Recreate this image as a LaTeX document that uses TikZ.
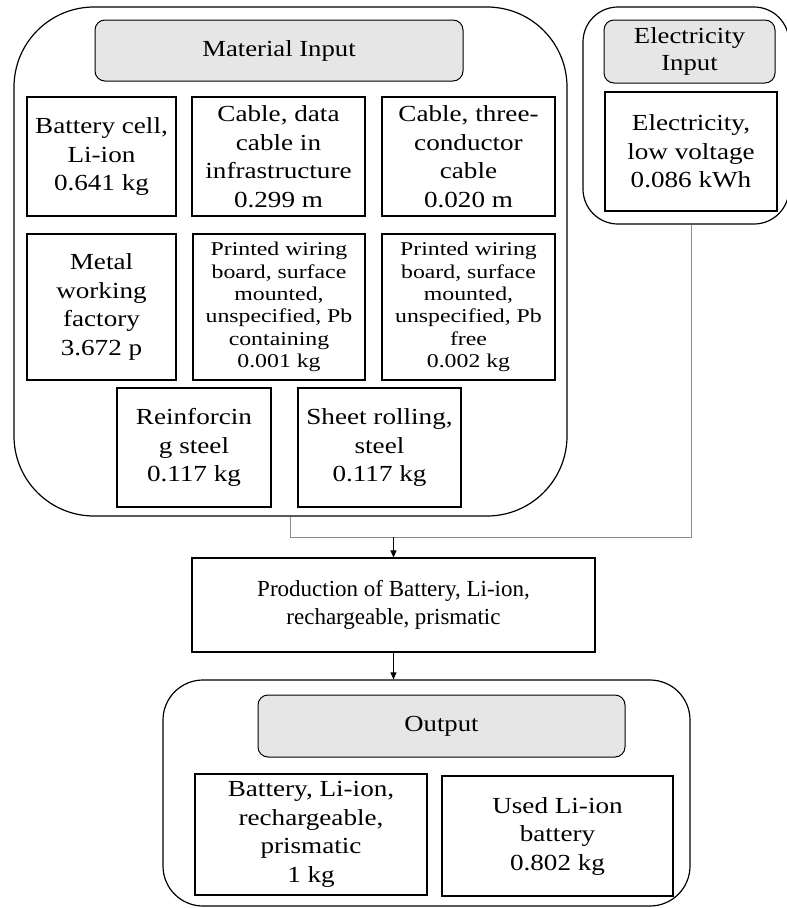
\documentclass[tikz,border=0pt]{standalone}
\usepackage{fontspec}
\setmainfont{Liberation Serif}
\newfontfamily\itemfont{Liberation Serif}[FakeStretch=1.18]
\newfontfamily\headfont{Liberation Serif}[FakeStretch=1.16]
\newfontfamily\boardfont{Liberation Serif}[FakeStretch=1.22]
\usetikzlibrary{arrows.meta}
\definecolor{headgray}{HTML}{E6E6E6}
\definecolor{linegray}{HTML}{8C8C8C}
\begin{document}
\begin{tikzpicture}[x=1pt,y=-1pt,
  group/.style={draw=black, line width=1.2pt, rounded corners=#1, inner sep=0pt},
  head/.style={draw=black, line width=1pt, fill=headgray, rounded corners=10pt,
    inner sep=0pt, align=center, font=\headfont\fontsize{23}{27.5}\selectfont},
  item/.style={draw=black, line width=1.1pt, inner sep=0pt, align=center,
    font=\itemfont\fontsize{23}{28.5}\selectfont},
  smalltext/.style={font=\boardfont\fontsize{19.5}{22.4}\selectfont},
  plaintext/.style={font=\rmfamily\fontsize{23}{28.5}\selectfont},
  feed/.style={draw=linegray, line width=0.9pt},
  flow/.style={draw=black, line width=0.9pt, -{Triangle[length=7pt,width=6pt]}}]

\useasboundingbox (0,0) rectangle (787,908);

% material inputs
\node[group=80pt, minimum width=553pt, minimum height=509pt] (matc) at (290.5,261.5) {};
\node[head, minimum width=368pt, minimum height=61pt] (mathead) at (279,50.5) {Material Input};
\node[item, minimum width=149pt, minimum height=119pt] (cell) at (101.5,156.5) {Battery cell,\\Li-ion\\0.641 kg};
\node[item, minimum width=173pt, minimum height=119pt] (datacable) at (278.5,156.5) {Cable, data\\cable in\\infrastructure\\0.299 m};
\node[item, minimum width=173pt, minimum height=119pt] (threecable) at (468.5,156.5) {Cable, three-\\conductor\\cable\\0.020 m};
\node[item, minimum width=149pt, minimum height=146pt] (metal) at (101.5,307) {Metal\\working\\factory\\3.672 p};
\node[item, smalltext, minimum width=172pt, minimum height=146pt] (pwbpb) at (279,307) {Printed wiring\\board, surface\\mounted,\\unspecified, Pb\\containing\\0.001 kg};
\node[item, smalltext, minimum width=173pt, minimum height=146pt] (pwbfree) at (468.5,307) {Printed wiring\\board, surface\\mounted,\\unspecified, Pb\\free\\0.002 kg};
\node[item, minimum width=154pt, minimum height=119pt] (rebar) at (194,447.5) {Reinforcin\\g steel\\0.117 kg};
\node[item, minimum width=163pt, minimum height=119pt] (sheet) at (379.5,447.5) {Sheet rolling,\\steel\\0.117 kg};

% electricity input
\node[group=35pt, minimum width=206pt, minimum height=217pt] (elecc) at (686,115.5) {};
\node[head, minimum width=171pt, minimum height=63pt] (elechead) at (689.5,51.5) {Electricity\\Input};
\node[item, minimum width=172pt, minimum height=119pt] (elec) at (691,151.5) {Electricity,\\low voltage\\0.086 kWh};

% process
\node[item, plaintext, minimum width=403pt, minimum height=94pt] (prod) at (393.5,605) {Production of Battery, Li-ion,\\rechargeable, prismatic};

% outputs
\node[group=40pt, minimum width=527pt, minimum height=226pt] (outc) at (426.5,793) {};
\node[head, minimum width=367pt, minimum height=62pt] (outhead) at (441.5,726) {Output};
\node[item, minimum width=232pt, minimum height=121pt] (battery) at (311,834.5) {Battery, Li-ion,\\rechargeable,\\prismatic\\1 kg};
\node[item, minimum width=231pt, minimum height=120pt] (used) at (557.5,836) {Used Li-ion\\battery\\0.802 kg};

% connectors
\coordinate (join) at (393.5,537);
\draw[feed] (matc.south) -- (matc.south |- join) -- (elec.south |- join) -- (elec.south |- elecc.south);
\draw[flow] (prod.north |- join) -- (prod.north);
\draw[flow] (prod.south) -- (prod.south |- outc.north);
\end{tikzpicture}
\end{document}
